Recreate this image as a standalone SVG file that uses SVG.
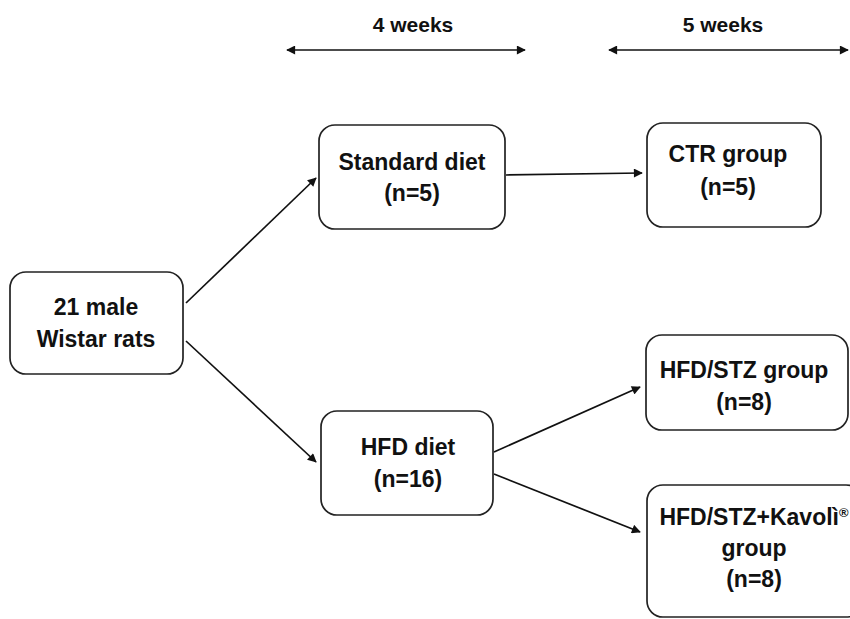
<svg xmlns="http://www.w3.org/2000/svg" width="850" height="619" viewBox="0 0 850 619">
<defs>
<marker id="ah" viewBox="0 0 10 10" refX="9" refY="5" markerWidth="10" markerHeight="9" markerUnits="userSpaceOnUse" orient="auto-start-reverse">
<path d="M0,0 L10,5 L0,10 z" fill="#111"/>
</marker>
<style>
.box{fill:#fff;stroke:#222;stroke-width:1.7}
.t{font-family:"Liberation Sans",Arial,sans-serif;font-weight:bold;font-size:23px;fill:#111;text-anchor:middle}
.h{font-family:"Liberation Sans",Arial,sans-serif;font-weight:bold;font-size:21px;fill:#111;text-anchor:middle}
.c{stroke:#111;stroke-width:1.7;fill:none;marker-end:url(#ah)}
</style>
</defs>
<rect width="850" height="619" fill="#fff"/>
<g id="timeline">
<text class="h" x="413" y="32">4 weeks</text>
<line class="c" x1="287" y1="50" x2="525" y2="50" marker-start="url(#ah)"/>
<text class="h" x="723" y="32">5 weeks</text>
<line class="c" x1="609" y1="50" x2="848" y2="50" marker-start="url(#ah)"/>
</g>
<g id="connectors">
<line class="c" x1="186" y1="303" x2="316" y2="178"/>
<line class="c" x1="186" y1="341" x2="316" y2="462"/>
<line class="c" x1="506" y1="175" x2="642" y2="173"/>
<line class="c" x1="494" y1="452" x2="640" y2="387"/>
<line class="c" x1="494" y1="474" x2="640" y2="532"/>
</g>
<g id="rats">
<rect class="box" x="10" y="272" width="173" height="102" rx="16"/>
<text class="t" x="96" y="315">21 male</text>
<text class="t" x="96" y="347">Wistar rats</text>
</g>
<g id="standard">
<rect class="box" x="319" y="125" width="186" height="104" rx="16"/>
<text class="t" x="412" y="170">Standard diet</text>
<text class="t" x="412" y="201">(n=5)</text>
</g>
<g id="ctr">
<rect class="box" x="647" y="123" width="174" height="104" rx="16"/>
<text class="t" x="728" y="162">CTR group</text>
<text class="t" x="728" y="195">(n=5)</text>
</g>
<g id="hfd">
<rect class="box" x="321" y="411" width="172" height="104" rx="16"/>
<text class="t" x="408" y="455">HFD diet</text>
<text class="t" x="408" y="487">(n=16)</text>
</g>
<g id="hfdstz">
<rect class="box" x="646" y="335" width="202" height="95" rx="16"/>
<text class="t" x="744" y="378">HFD/STZ group</text>
<text class="t" x="744" y="410">(n=8)</text>
</g>
<g id="kavoli">
<rect class="box" x="647" y="485" width="215" height="132" rx="16"/>
<text class="t" x="754" y="525">HFD/STZ+Kavolì<tspan font-size="13" dy="-8">®</tspan></text>
<text class="t" x="754" y="556">group</text>
<text class="t" x="754" y="587">(n=8)</text>
</g>
</svg>
